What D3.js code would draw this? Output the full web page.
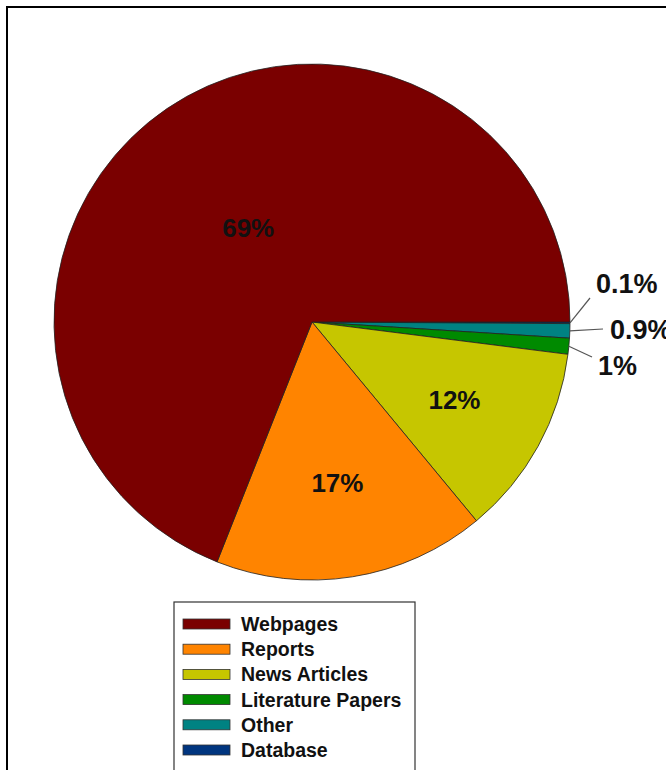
<!DOCTYPE html>
<html>
<head>
<meta charset="utf-8">
<script src="https://cdn.jsdelivr.net/npm/d3@7"></script>
<style>
  html, body { margin: 0; padding: 0; background: #fff; }
  svg { display: block; font-family: "Liberation Sans", Arial, sans-serif; }
</style>
</head>
<body>
<svg id="chart" width="666" height="770"></svg>
<script>
// Source types, in legend order
const categories = ["Webpages", "Reports", "News Articles", "Literature Papers", "Other", "Database"];
const shares = [69, 17, 12, 1, 0.9, 0.1];
const shareLabels = ["69%", "17%", "12%", "1%", "0.9%", "0.1%"];
const colors = ["#7a0000", "#ff8400", "#c6c600", "#008a00", "#008282", "#00357f"];

const svg = d3.select("#chart");
const W = 666, H = 770;

// outer frame (runs off the right and bottom edges)
svg.append("rect")
  .attr("x", 7).attr("y", 7)
  .attr("width", W + 20).attr("height", H + 20)
  .attr("fill", "none").attr("stroke", "#000").attr("stroke-width", 2);

const cx = 312, cy = 322, R = 258;

const rows = categories.map((c, i) => ({ name: c, value: shares[i], label: shareLabels[i], color: colors[i], idx: i }));

// slices run clockwise from 3 o'clock: smallest first, Webpages last
const pie = d3.pie()
  .sort(null)
  .value(d => d.value)
  .startAngle(Math.PI / 2)
  .endAngle(Math.PI / 2 + 2 * Math.PI);

const arcs = pie(rows.slice().reverse());
const arc = d3.arc().innerRadius(0).outerRadius(R);

const g = svg.append("g").attr("transform", `translate(${cx},${cy})`);

g.selectAll("path.slice")
  .data(arcs)
  .join("path")
  .attr("class", "slice")
  .attr("d", arc)
  .attr("fill", d => d.data.color)
  .attr("stroke", "#222")
  .attr("stroke-width", 0.8)
  .attr("stroke-linejoin", "round");

// labels inside the large slices
const big = arcs.filter(d => d.data.value >= 5);
g.selectAll("text.inner")
  .data(big)
  .join("text")
  .attr("class", "inner")
  .attr("transform", d => {
    const a = (d.startAngle + d.endAngle) / 2;
    const r = d.data.value > 50 ? R * 0.44 : R * 0.63;
    return `translate(${Math.sin(a) * r},${-Math.cos(a) * r})`;
  })
  .attr("text-anchor", "middle")
  .attr("dominant-baseline", "central")
  .attr("font-size", 26)
  .attr("font-weight", "bold")
  .attr("fill", "#111")
  .text(d => d.data.label);

// small slices get leader lines out to the right
const small = arcs.filter(d => d.data.value < 5);
// vertical spread of the outside labels (Database up, Other level, Literature down)
const spread = { "Database": { ly: -24, ty: -38, tx: 284 }, "Other": { ly: 7, ty: 8, tx: 298 }, "Literature Papers": { ly: 35, ty: 44, tx: 286 } };

small.forEach(d => {
  const a = (d.startAngle + d.endAngle) / 2;
  const x0 = Math.sin(a) * R, y0 = -Math.cos(a) * R;
  const s = spread[d.data.name];
  const x1 = s.tx - 10 + (d.data.name === "Other" ? 5 : 6);
  g.append("line")
    .attr("x1", x0).attr("y1", y0)
    .attr("x2", x1 - 2).attr("y2", s.ly)
    .attr("stroke", "#555").attr("stroke-width", 1.2);
  g.append("text")
    .attr("x", s.tx).attr("y", s.ty)
    .attr("dominant-baseline", "central")
    .attr("font-size", 27)
    .attr("font-weight", "bold")
    .attr("fill", "#111")
    .text(d.data.label);
});

// legend
const lx = 174, ly = 602, rowH = 25.2;
const legend = svg.append("g");
legend.append("rect")
  .attr("x", lx).attr("y", ly)
  .attr("width", 241).attr("height", 200)
  .attr("fill", "#fff").attr("stroke", "#333").attr("stroke-width", 1.2);

const items = legend.selectAll("g.item")
  .data(rows)
  .join("g")
  .attr("class", "item")
  .attr("transform", (d, i) => `translate(${lx}, ${ly + 22 + i * rowH})`);

items.append("rect")
  .attr("x", 9).attr("y", -5)
  .attr("width", 47).attr("height", 10)
  .attr("fill", d => d.color)
  .attr("stroke", "#333").attr("stroke-width", 0.8);

items.append("text")
  .attr("x", 67).attr("y", 0)
  .attr("dominant-baseline", "central")
  .attr("font-size", 19.5)
  .attr("font-weight", "bold")
  .attr("fill", "#111")
  .text(d => d.name);
</script>
</body>
</html>
